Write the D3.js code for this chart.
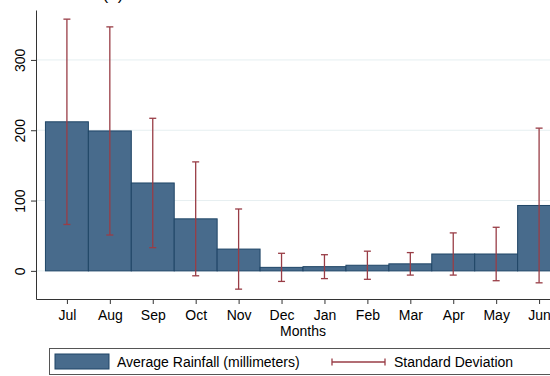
<!DOCTYPE html>
<html>
<head>
<meta charset="utf-8">
<script src="https://cdn.jsdelivr.net/npm/d3@7"></script>
<style>
  body { margin: 0; background: #fff; }
  svg { display: block; font-family: "Liberation Sans", Arial, sans-serif; }
</style>
</head>
<body>
<div id="chart"></div>
<script>
var months = ["Jul","Aug","Sep","Oct","Nov","Dec","Jan","Feb","Mar","Apr","May","Jun"];
var rainMean = [212, 199, 125, 74, 31, 5, 6, 8, 10, 24, 24, 93];
var rainSd = [146, 148, 92, 81, 57, 20, 17, 20, 16, 30, 38, 110];
var yTicks = [0, 100, 200, 300];

var W = 550, H = 376;
var svg = d3.select("#chart").append("svg")
  .attr("width", W)
  .attr("height", H);

// plot region (right side runs past the window, like the source image)
var margin = {top: 10, left: 36, bottom: 299, right: 570};

var x = d3.scaleLinear()
  .domain([-0.72, 11.72])
  .range([margin.left, margin.right]);
var y = d3.scaleLinear()
  .domain([-40, 371])
  .range([margin.bottom, margin.top]);

// cut-off title at the very top
svg.append("text")
  .attr("x", 113)
  .attr("y", 0)
  .attr("text-anchor", "middle")
  .style("font-size", "17px")
  .text("(a)");

// grid
svg.append("g")
  .selectAll("line")
  .data(yTicks)
  .enter()
  .append("line")
  .attr("x1", margin.left)
  .attr("x2", margin.right)
  .attr("y1", function(d){ return y(d); })
  .attr("y2", function(d){ return y(d); })
  .attr("stroke", "#e6eff1")
  .attr("stroke-width", 1);

// bars
svg.append("g")
  .selectAll("rect")
  .data(rainMean)
  .enter()
  .append("rect")
  .attr("x", function(d,i){ return x(i - 0.5); })
  .attr("width", function(d,i){ return x(i + 0.5) - x(i - 0.5); })
  .attr("y", function(d){ return y(d); })
  .attr("height", function(d){ return y(0) - y(d); })
  .attr("fill", "#486b8c")
  .attr("stroke", "#1f4566")
  .attr("stroke-width", 1);

// error bars
var err = svg.append("g")
  .attr("stroke", "#993d46")
  .attr("stroke-width", 1.3);
for (var i = 0 ; i < rainMean.length ; i++){
  var cx = x(i);
  var hi = y(rainMean[i] + rainSd[i]);
  var lo = y(rainMean[i] - rainSd[i]);
  err.append("line").attr("x1", cx).attr("x2", cx).attr("y1", hi).attr("y2", lo);
  err.append("line").attr("x1", cx - 3.5).attr("x2", cx + 3.5).attr("y1", hi).attr("y2", hi);
  err.append("line").attr("x1", cx - 3.5).attr("x2", cx + 3.5).attr("y1", lo).attr("y2", lo);
}

// y axis
var yAxis = svg.append("g")
  .attr("transform", "translate(" + margin.left + ",0)")
  .call(d3.axisLeft(y).tickValues(yTicks).tickSize(5).tickSizeOuter(0).tickFormat(d3.format("d")));
yAxis.select(".domain").attr("stroke", "#333");
yAxis.selectAll(".tick line").attr("stroke", "#333");
yAxis.selectAll(".tick text")
  .attr("x", null).attr("dy", null)
  .attr("text-anchor", "middle")
  .attr("transform", "translate(-11,0) rotate(-90)")
  .style("font-size", "14px")
  .attr("fill", "#000");

// x axis
var xAxis = svg.append("g")
  .attr("transform", "translate(0," + margin.bottom + ")")
  .call(d3.axisBottom(x).tickValues(d3.range(months.length)).tickSize(5).tickSizeOuter(0)
    .tickFormat(function(d){ return months[d]; }));
xAxis.select(".domain").attr("stroke", "#333");
xAxis.selectAll(".tick line").attr("stroke", "#333");
xAxis.selectAll(".tick text")
  .attr("y", 21).attr("dy", null)
  .style("font-size", "14px")
  .attr("fill", "#000");

svg.append("text")
  .attr("x", (margin.left + margin.right) / 2)
  .attr("y", 336)
  .attr("text-anchor", "middle")
  .style("font-size", "14px")
  .text("Months");

// legend
var leg = svg.append("g");
leg.append("rect")
  .attr("x", 49.5).attr("y", 348.5)
  .attr("width", 560).attr("height", 26)
  .attr("fill", "#fff")
  .attr("stroke", "#555");
leg.append("rect")
  .attr("x", 55).attr("y", 354)
  .attr("width", 54).attr("height", 15)
  .attr("fill", "#486b8c")
  .attr("stroke", "#1f4566");
leg.append("text")
  .attr("x", 117).attr("y", 367)
  .style("font-size", "14px")
  .text("Average Rainfall (millimeters)");
var lg = leg.append("g").attr("stroke", "#993d46").attr("stroke-width", 1.3);
lg.append("line").attr("x1", 332).attr("x2", 385).attr("y1", 362).attr("y2", 362);
lg.append("line").attr("x1", 332).attr("x2", 332).attr("y1", 358.5).attr("y2", 365.5);
lg.append("line").attr("x1", 385).attr("x2", 385).attr("y1", 358.5).attr("y2", 365.5);
leg.append("text")
  .attr("x", 394).attr("y", 367)
  .style("font-size", "14px")
  .text("Standard Deviation");
</script>
</body>
</html>
